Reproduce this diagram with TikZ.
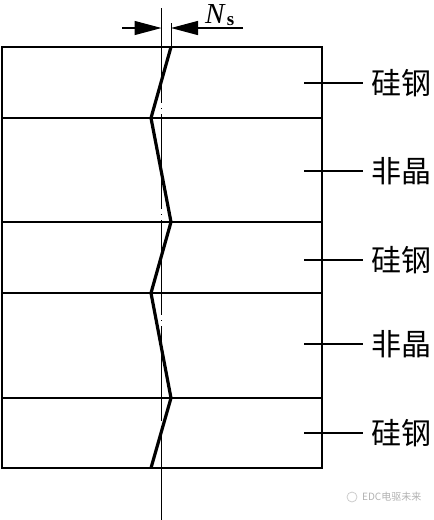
\documentclass[tikz,border=0pt]{standalone}
\usepackage{fontspec}
\setmainfont{Liberation Serif}
\newfontfamily\cjk{Noto Sans CJK SC}
\usetikzlibrary{arrows.meta}
\begin{document}
\begin{tikzpicture}[x=1pt,y=-1pt,
  frame/.style={line width=1.5pt},
  zig/.style={line width=3.2pt,line join=miter},
  center/.style={line width=1pt,dash pattern=on 95pt off 5pt on 1pt off 5pt},
  leader/.style={line width=1.3pt},
  lab/.style={font=\cjk\fontsize{30}{30}\selectfont,anchor=west,inner sep=0pt},
  dimarrow/.style={line width=1.3pt,-{Triangle[length=27pt,width=14pt]}}]
\useasboundingbox (0,0) rectangle (434,520);
% frame and layer boundaries
\draw[frame] (2,47) rectangle (322,468);
\foreach \yy in {118,222,293,398} \draw[frame] (2,\yy) -- (322,\yy);
% center line
\draw[center] (161.5,8) -- (161.5,520);
% extension line
\draw[line width=1pt] (171,23) -- (171,47);
% dimension arrows
\coordinate (la) at (122,28); \coordinate (lb) at (161.5,28);
\coordinate (ra) at (243,28); \coordinate (rb) at (171,28);
\draw[dimarrow] (la) -- (lb);
\draw[dimarrow] (ra) -- (rb);
\node[inner sep=0pt,anchor=base west] (ns) at (205,23) {\fontsize{29}{29}\selectfont\textit{N}\hspace{1pt}\raisebox{-2pt}{\fontsize{19}{19}\selectfont\textbf{s}}};
% zigzag
\draw[zig] (171,47) -- (151,118) -- (171,222) -- (151,293) -- (171,398) -- (151,468);
% labels
\node[lab] (l1) at (371,83) {硅钢};
\node[lab] (l2) at (371,171) {非晶};
\node[lab] (l3) at (371,260) {硅钢};
\node[lab] (l4) at (371,344) {非晶};
\node[lab] (l5) at (371,433) {硅钢};
\foreach \n/\yy in {l1/83,l2/171,l3/260,l4/344,l5/433} {
  \coordinate (s\n) at (304,\yy);
  \draw[leader] (s\n) -- (363,\yy);
}
% watermark
\node[inner sep=0pt,anchor=west,text=gray!60] (wm) at (362,497) {\cjk\fontsize{10}{10}\selectfont EDC电驱未来};
\draw[gray!40,line width=0.8pt] (352,497) circle (5pt);
\end{tikzpicture}
\end{document}
